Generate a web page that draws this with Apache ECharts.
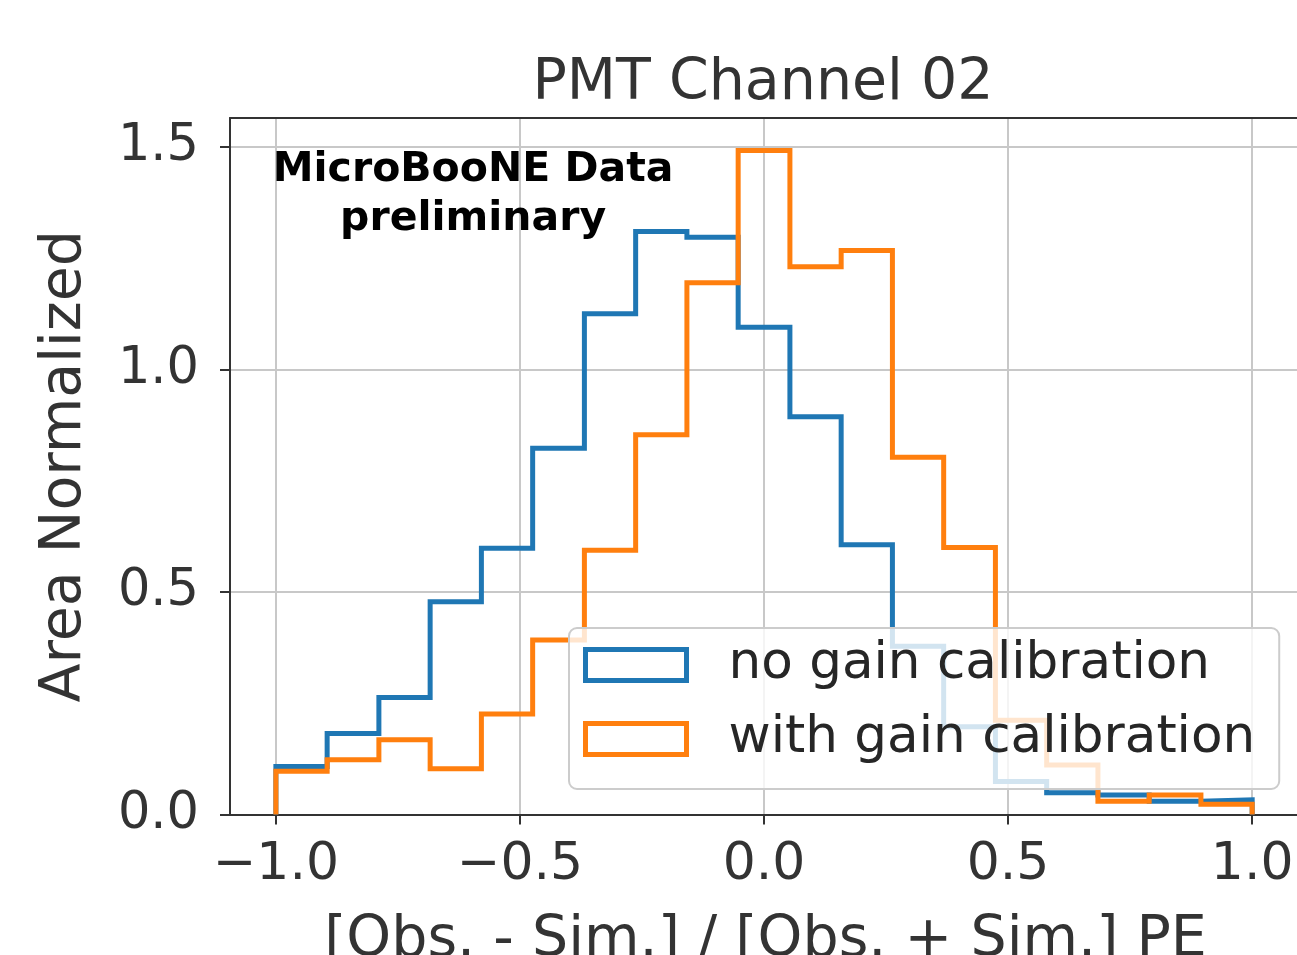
<!DOCTYPE html>
<html>
<head>
<meta charset="utf-8">
<script src="https://cdn.jsdelivr.net/npm/echarts@6/dist/echarts.min.js"></script>
<style>
html,body{margin:0;padding:0;background:#fff;}
#chart{width:1297px;height:955px;}
</style>
</head>
<body>
<div id="chart"></div>
<script>
// ---- data ----
const titleText = 'PMT Channel 02';
const xAxisName = '[Obs. - Sim.] / [Obs. + Sim.] PE';
const yAxisName = 'Area Normalized';
const seriesNames = ['no gain calibration', 'with gain calibration'];
const binEdges = [-1.0, -0.895, -0.789, -0.684, -0.579, -0.474, -0.368, -0.263, -0.158, -0.053,
                  0.053, 0.158, 0.263, 0.368, 0.474, 0.579, 0.684, 0.789, 0.895, 1.0];
const noGainValues = [0.108, 0.182, 0.263, 0.478, 0.598, 0.823, 1.125, 1.310, 1.297, 1.095,
                      0.894, 0.606, 0.378, 0.197, 0.074, 0.049, 0.044, 0.030, 0.033];
const withGainValues = [0.097, 0.123, 0.168, 0.103, 0.226, 0.392, 0.594, 0.853, 1.195, 1.492,
                        1.231, 1.267, 0.803, 0.600, 0.212, 0.111, 0.030, 0.044, 0.023];
const xTicks = [-1.0, -0.5, 0.0, 0.5, 1.0];
const yTicks = [0.0, 0.5, 1.0, 1.5];
const annotationText = 'MicroBooNE Data\npreliminary';
const annotationPos = [-0.596, 1.392];

// ---- build step outlines ----
function stepPoints(edges, vals) {
  const pts = [[edges[0], 0]];
  for (let i = 0; i < vals.length; i++) pts.push([edges[i], vals[i]]);
  pts.push([edges[edges.length - 1], vals[vals.length - 1]]);
  pts.push([edges[edges.length - 1], 0]);
  return pts;
}
const FONT = 'DejaVu Sans';
const TXT = '#262626';
const SPINE = {color: '#333333', width: 2};
function fmt(v) {
  const s = Math.abs(v).toFixed(1);
  return v < -1e-9 ? '\u2212' + s : s;
}

const chart = echarts.init(document.getElementById('chart'), null, {renderer: 'canvas'});
const option = {
  animation: false,
  backgroundColor: '#ffffff',
  title: {
    text: titleText,
    left: 763, top: 84, padding: 0,
    textAlign: 'center', textVerticalAlign: 'middle',
    textStyle: {fontFamily: FONT, fontSize: 57, fontWeight: 'normal', color: '#333333'}
  },
  grid: {
    left: 230, top: 118, width: 1071, height: 696.5,
    show: false, containLabel: false, outerBoundsMode: 'none'
  },
  xAxis: [{
    type: 'value', min: -1.094, max: 1.1, position: 'bottom',
    name: xAxisName, nameLocation: 'middle', nameGap: 98,
    nameTextStyle: {fontFamily: FONT, fontSize: 57, color: '#333333'},
    axisLine: {show: true, onZero: false, lineStyle: SPINE},
    axisTick: {show: true, customValues: xTicks, length: 10, lineStyle: {color: '#333', width: 2}},
    axisLabel: {customValues: xTicks, margin: 25, fontFamily: FONT, fontSize: 52, color: '#333333', formatter: fmt},
    splitLine: {show: true, lineStyle: {color: '#c8c8c8', width: 2}}
  }, {
    type: 'value', min: -1.094, max: 1.1, position: 'top',
    axisLine: {show: true, onZero: false, lineStyle: SPINE},
    axisTick: {show: false}, axisLabel: {show: false}, splitLine: {show: false}
  }],
  yAxis: {
    type: 'value', min: 0, max: 1.565,
    name: yAxisName, nameLocation: 'middle', nameGap: 136,
    nameTextStyle: {fontFamily: FONT, fontSize: 57, color: '#333333'},
    axisLine: {show: true, onZero: false, lineStyle: SPINE},
    axisTick: {show: true, customValues: yTicks, length: 10, lineStyle: {color: '#333', width: 2}},
    axisLabel: {customValues: yTicks, margin: 31, fontFamily: FONT, fontSize: 51, color: '#333333', formatter: fmt},
    splitLine: {show: true, lineStyle: {color: '#c8c8c8', width: 2}}
  },
  legend: {
    orient: 'vertical',
    left: 569, top: 628,
    padding: [11, 24, 24, 14],
    itemGap: 22,
    itemWidth: 101, itemHeight: 31,
    backgroundColor: 'rgba(255,255,255,0.8)',
    borderColor: '#cccccc', borderWidth: 2, borderRadius: 8,
    textStyle: {fontFamily: FONT, fontSize: 51.6, color: TXT, padding: [0, 0, 0, 37]},
    data: [
      {name: seriesNames[0], icon: 'rect', itemStyle: {color: 'rgba(0,0,0,0)', borderColor: '#1f77b4', borderWidth: 5}},
      {name: seriesNames[1], icon: 'rect', itemStyle: {color: 'rgba(0,0,0,0)', borderColor: '#ff7f0e', borderWidth: 5}}
    ]
  },
  series: [
    {
      name: seriesNames[0], type: 'line', step: 'end', showSymbol: false, symbol: 'none',
      xAxisIndex: 0,
      data: stepPoints(binEdges, noGainValues),
      lineStyle: {color: '#1f77b4', width: 5, join: 'miter'}, itemStyle: {color: '#1f77b4'}, z: 2
    },
    {
      name: seriesNames[1], type: 'line', step: 'end', showSymbol: false, symbol: 'none',
      xAxisIndex: 0,
      data: stepPoints(binEdges, withGainValues),
      lineStyle: {color: '#ff7f0e', width: 5, join: 'miter'}, itemStyle: {color: '#ff7f0e'}, z: 3
    }
  ]
};
chart.setOption(option);
const p = chart.convertToPixel({xAxisIndex: 0, yAxisIndex: 0}, annotationPos);
chart.setOption({
  graphic: [{
    type: 'text', x: p[0], y: p[1], z: 10,
    style: {
      text: annotationText, fontFamily: FONT, fontSize: 41, fontWeight: 'bold',
      fill: '#000', align: 'center', verticalAlign: 'middle', lineHeight: 49
    }
  }]
});
</script>
</body>
</html>
